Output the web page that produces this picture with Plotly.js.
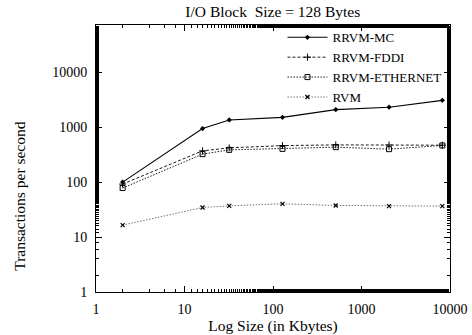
<!DOCTYPE html>
<html>
<head>
<meta charset="utf-8">
<script src="https://cdn.plot.ly/plotly-3.0.1.min.js"></script>
<style>html,body{margin:0;padding:0;background:#fff;}#chart{width:472px;height:335px;}</style>
</head>
<body>
<div id="chart"></div>
<script>
const logSizes = [2, 16, 32, 128, 512, 2048, 8192];
const rrvmMC = [100, 945, 1355, 1510, 2090, 2310, 3080];
const rrvmFDDI = [92, 371, 421, 462, 476, 474, 470];
const rrvmEthernet = [78, 323, 387, 403, 433, 398, 465];
const rvm = [16.5, 34.5, 37, 40.3, 37.6, 36.6, 36.6];
const seriesNames = ["RRVM-MC", "RRVM-FDDI", "RRVM-ETHERNET", "RVM"];
const xTickVals = [1, 10, 100, 1000, 10000];
const xTickText = ["1", "10", "100", "1000", "10000"];
const yTickVals = [1, 10, 100, 1000, 10000];
const yTickText = ["1", "10", "100", "1000", "10000"];
const yTitle = 'Transactions per second';

const fam = 'Liberation Serif, Times New Roman, serif';
const font = {family: fam, size: 14, color: '#000'};
const titleFont = {family: fam, size: 15.5, color: '#000'};
const legendFont = {family: fam, size: 13, color: '#000'};

const traces = [
  {x: logSizes, y: rrvmMC, name: seriesNames[0], mode: 'lines+markers',
   line: {color: '#000', width: 1.1, dash: 'solid'},
   marker: {symbol: 'diamond', size: 4, color: '#000'}},
  {x: logSizes, y: rrvmFDDI, name: seriesNames[1], mode: 'lines+markers',
   line: {color: '#000', width: 0.9, dash: '3px,2px'},
   marker: {symbol: 'cross-thin', size: 5, color: '#000', line: {color: '#000', width: 1}}},
  {x: logSizes, y: rrvmEthernet, name: seriesNames[2], mode: 'lines+markers',
   line: {color: '#000', width: 0.9, dash: '1.5px,1.5px'},
   marker: {symbol: 'square-open', size: 5, color: '#000', line: {color: '#000', width: 1}}},
  {x: logSizes, y: rvm, name: seriesNames[3], mode: 'lines+markers',
   line: {color: '#666', width: 0.9, dash: '1.5px,1.5px'},
   marker: {symbol: 'x-thin', size: 4, color: '#000', line: {color: '#000', width: 1.2}}}
];

const axisCommon = {
  type: 'log', showgrid: false, zeroline: false, showline: true, mirror: 'allticks',
  linecolor: '#000', linewidth: 1, ticks: 'inside', ticklen: 6, tickcolor: '#000', tickwidth: 1,
  tickfont: font,
  minor: {ticks: 'inside', ticklen: 3, tickcolor: '#000', tickwidth: 1, showgrid: false}
};

const layout = {
  width: 472, height: 335,
  margin: {l: 96, r: 22, t: 25, b: 43},
  paper_bgcolor: '#fff', plot_bgcolor: '#fff',
  font: font,
  title: {text: 'I/O Block&nbsp; Size = 128 Bytes', font: titleFont, x: 0.578, xanchor: 'center', y: 0.965, yanchor: 'middle'},
  xaxis: Object.assign({}, axisCommon, {
    range: [0, 4], tickvals: xTickVals, ticktext: xTickText, ticklabelstandoff: 4,
    title: {text: 'Log Size (in Kbytes)', font: titleFont, standoff: 0}
  }),
  yaxis: Object.assign({}, axisCommon, {
    range: [0, 4.86], tickvals: yTickVals, ticktext: yTickText, ticklabelstandoff: 5
  }),
  annotations: [{text: yTitle, xref: 'paper', yref: 'paper', x: -0.215, y: 0.36,
                 xanchor: 'center', yanchor: 'middle', textangle: -90,
                 showarrow: false, font: titleFont}],
  showlegend: true,
  legend: {x: 0.99, xanchor: 'right', y: 1.01, yanchor: 'top', bgcolor: 'rgba(0,0,0,0)',
           font: legendFont, tracegroupgap: 0, itemwidth: 40}
};

Plotly.newPlot('chart', traces, layout, {staticPlot: true, displayModeBar: false});
</script>
</body>
</html>
